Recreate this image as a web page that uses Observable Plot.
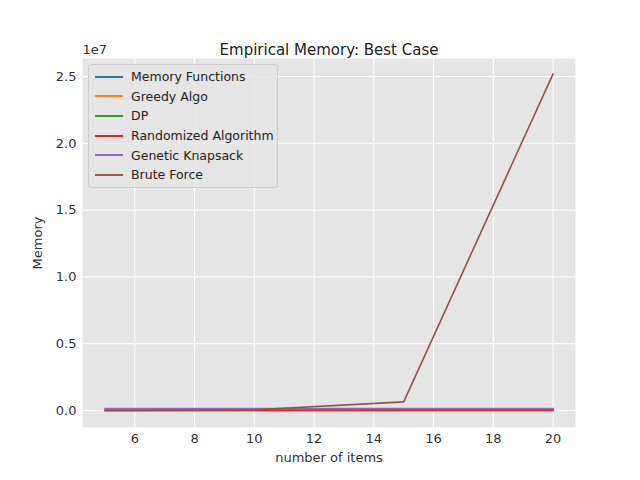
<!DOCTYPE html>
<html><head><meta charset="utf-8">
<script src="https://cdn.jsdelivr.net/npm/d3@7"></script>
<script src="https://cdn.jsdelivr.net/npm/@observablehq/plot@0.6"></script>
<style>
body{margin:0;font-family:"DejaVu Sans";}
#wrap{position:relative;width:640px;height:480px;}
#legend{position:absolute;left:88px;top:64px;width:190px;padding:2px 0;background:rgba(229,229,229,0.8);border:1px solid #ccc;border-radius:3px;font-size:12.5px;color:#222;white-space:nowrap;box-sizing:border-box;}
#legend div{display:flex;align-items:center;height:19.6px;}
#legend span.sw{display:inline-block;width:28px;height:2px;margin:0 8px 0 6px;flex:none;}
</style></head><body>
<div id="wrap"><div id="chart"></div><div id="legend"></div></div>
<script>
const items = [5, 10, 15, 20];
const names = ["Memory Functions", "Greedy Algo", "DP", "Randomized Algorithm", "Genetic Knapsack", "Brute Force"];
const colors = ["#1f77b4", "#ff7f0e", "#2ca02c", "#d62728", "#9467bd", "#8c564b"];
const memFunctions = [20000, 40000, 60000, 80000];
const greedy = [5000, 6000, 7000, 8000];
const dp = [10000, 20000, 30000, 40000];
const randomized = [8000, 9000, 10000, 11000];
const genetic = [140000, 145000, 150000, 155000];
const brute = [2000, 60000, 650000, 25200000];
const series = [memFunctions, greedy, dp, randomized, genetic, brute];

const rows = [];
series.forEach((s, i) => s.forEach((v, j) => rows.push({x: items[j], y: v, name: names[i]})));

const chart = Plot.plot({
  width: 640, height: 480,
  marginLeft: 82, marginRight: 65, marginTop: 58, marginBottom: 53,
  style: {fontFamily: "DejaVu Sans", fontSize: "13px", color: "#333", background: "white"},
  x: {domain: [4.25, 20.75], ticks: [6, 8, 10, 12, 14, 16, 18, 20], tickSize: 0, tickPadding: 6, label: "number of items", labelAnchor: "center", labelArrow: "none", labelOffset: 34, grid: true},
  y: {domain: [-1270000, 26350000], ticks: [0, 5e6, 1e7, 1.5e7, 2e7, 2.5e7], tickFormat: d => (d / 1e7).toFixed(1), tickSize: 0, tickPadding: 6, label: "Memory", labelAnchor: "center", labelArrow: "none", labelOffset: 50, grid: true},
  color: {domain: names, range: colors},
  marks: [
    Plot.frame({fill: "#e5e5e5"}),
    Plot.gridX({stroke: "white", strokeOpacity: 1, ticks: [6, 8, 10, 12, 14, 16, 18, 20]}),
    Plot.gridY({stroke: "white", strokeOpacity: 1, ticks: [0, 5e6, 1e7, 1.5e7, 2e7, 2.5e7]}),
    Plot.line(rows, {x: "x", y: "y", z: "name", stroke: "name", strokeWidth: 1.6}),
    Plot.text(["Empirical Memory: Best Case"], {frameAnchor: "top", dy: -14, fontSize: 15, fill: "#222"}),
    Plot.text(["1e7"], {frameAnchor: "top-left", dy: -14, dx: 0, fontSize: 13, fill: "#333"})
  ]
});
document.getElementById("chart").append(chart);
const lg = d3.select("#legend");
names.forEach((n, i) => {
  const r = lg.append("div");
  r.append("span").attr("class", "sw").style("background", colors[i]);
  r.append("span").text(n);
});
</script></body></html>
